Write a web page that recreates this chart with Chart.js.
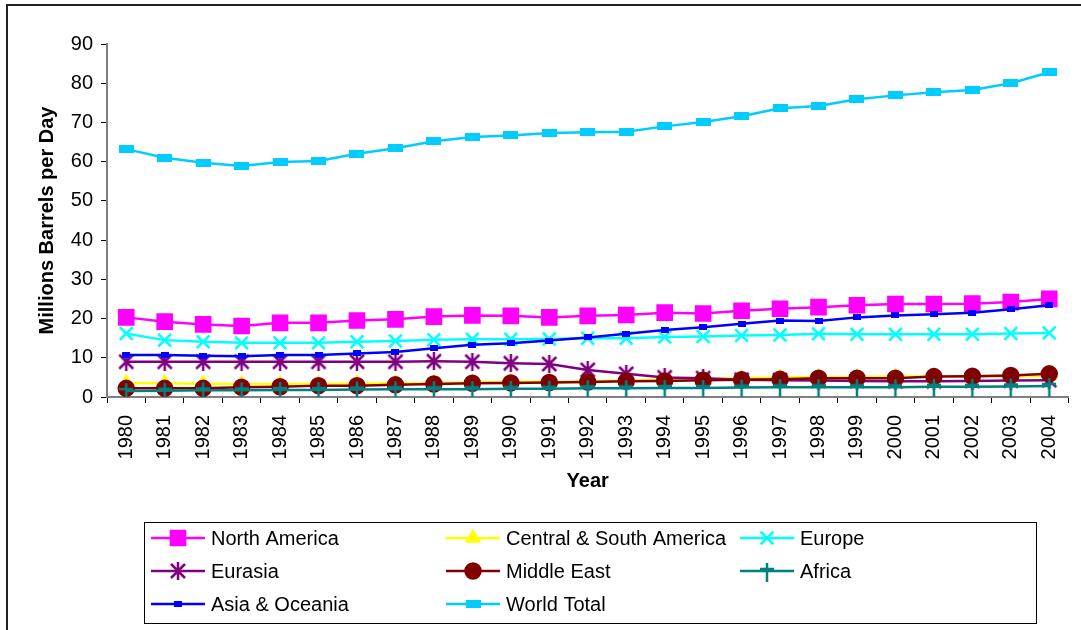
<!DOCTYPE html>
<html>
<head>
<meta charset="utf-8">
<script src="https://cdn.jsdelivr.net/npm/chart.js@4/dist/chart.umd.min.js"></script>
<style>
  body { margin: 0; background: #fff; }
  canvas { display: block; }
</style>
</head>
<body>
<canvas id="chart-oil" width="1081" height="630"></canvas>
<script>
const years = ["1980","1981","1982","1983","1984","1985","1986","1987","1988","1989","1990","1991","1992",
  "1993","1994","1995","1996","1997","1998","1999","2000","2001","2002","2003","2004"];
const yTicks = [0, 10, 20, 30, 40, 50, 60, 70, 80, 90];

const northAmerica = [20.3, 19.2, 18.5, 18.1, 18.9, 18.9, 19.5, 19.8, 20.5, 20.8, 20.7, 20.3, 20.7, 20.9, 21.5, 21.3, 22.0, 22.5, 22.9, 23.4, 23.7, 23.7, 23.8, 24.2, 25.0];
const centralSouth = [3.6, 3.5, 3.4, 3.3, 3.3, 3.3, 3.4, 3.5, 3.6, 3.7, 3.8, 3.9, 4.0, 4.2, 4.4, 4.6, 4.8, 5.0, 5.1, 5.1, 5.2, 5.2, 5.2, 5.2, 5.4];
const europe = [16.2, 14.5, 14.1, 13.8, 13.8, 13.8, 14.1, 14.3, 14.6, 14.7, 14.7, 14.8, 15.0, 15.0, 15.3, 15.4, 15.7, 15.8, 16.1, 16.0, 16.0, 16.0, 16.0, 16.2, 16.3];
const eurasia = [9.0, 9.0, 9.0, 9.0, 9.0, 9.0, 9.0, 9.0, 9.1, 9.0, 8.6, 8.4, 6.9, 5.9, 5.0, 4.8, 4.4, 4.3, 4.2, 4.1, 4.0, 4.0, 4.1, 4.2, 4.3];
const middleEast = [2.2, 2.2, 2.2, 2.5, 2.6, 2.9, 2.9, 3.1, 3.3, 3.5, 3.6, 3.7, 3.8, 4.0, 4.1, 4.3, 4.4, 4.5, 4.8, 4.8, 4.8, 5.2, 5.3, 5.5, 5.9];
const africa = [1.5, 1.6, 1.7, 1.7, 1.8, 1.8, 1.9, 2.0, 2.0, 2.0, 2.1, 2.1, 2.2, 2.2, 2.3, 2.3, 2.4, 2.5, 2.5, 2.5, 2.5, 2.6, 2.6, 2.7, 2.8];
const asiaOceania = [10.7, 10.7, 10.5, 10.4, 10.7, 10.7, 11.1, 11.5, 12.4, 13.3, 13.7, 14.4, 15.2, 16.1, 17.1, 17.8, 18.7, 19.5, 19.4, 20.3, 20.8, 21.1, 21.5, 22.4, 23.4];
const worldTotal = [63.2, 61.0, 59.7, 58.9, 59.9, 60.2, 62.0, 63.4, 65.2, 66.3, 66.7, 67.3, 67.5, 67.6, 69.0, 70.1, 71.6, 73.6, 74.2, 75.9, 76.9, 77.7, 78.3, 80.0, 82.8];

const FONT = "'Liberation Sans', Arial, sans-serif";

// small canvases used as point styles for the markers Chart.js doesn't have
function marker(w, h, paint) {
  const c = document.createElement("canvas");
  c.width = w;
  c.height = h;
  paint(c.getContext("2d"), w, h);
  return c;
}

const worldMark = marker(15, 8, (g, w, h) => { g.fillStyle = "#00CCFF"; g.fillRect(0, 0, w, h); });
const asiaMark = marker(8, 6, (g, w, h) => { g.fillStyle = "#0000FF"; g.fillRect(0, 0, w, h); });
const eurasiaMark = marker(18, 18, (g, w, h) => {
  g.strokeStyle = "#800080";
  g.lineWidth = 2.5;
  g.beginPath();
  g.moveTo(2, 2); g.lineTo(w - 2, h - 2);
  g.moveTo(w - 2, 2); g.lineTo(2, h - 2);
  g.moveTo(w / 2, 0); g.lineTo(w / 2, h);
  g.stroke();
});
// Africa's plus sign hangs a little lower than it reaches up
const africaMark = marker(14, 22, (g, w, h) => {
  g.strokeStyle = "#008080";
  g.lineWidth = 2.5;
  g.beginPath();
  g.moveTo(0, 9); g.lineTo(w, 9);
  g.moveTo(w / 2, 3); g.lineTo(w / 2, h);
  g.stroke();
});

const series = [
  { label: "North America", data: northAmerica, color: "#FF00FF", style: "rect", radius: 10 },
  { label: "Central & South America", data: centralSouth, color: "#FFFF00", style: "triangle", radius: 7 },
  { label: "Europe", data: europe, color: "#00FFFF", style: "crossRot", radius: 9 },
  { label: "Eurasia", data: eurasia, color: "#800080", style: eurasiaMark, radius: 8 },
  { label: "Middle East", data: middleEast, color: "#800000", style: "circle", radius: 7.5 },
  { label: "Africa", data: africa, color: "#008080", style: africaMark, radius: 7 },
  { label: "Asia & Oceania", data: asiaOceania, color: "#0000FF", style: asiaMark, radius: 4 },
  { label: "World Total", data: worldTotal, color: "#00CCFF", style: worldMark, radius: 6 }
];

// frame and 3-column legend box under the plot
const legendColumns = [151, 446, 740];
const legendRows = [538, 571, 604];

const framePlugin = {
  id: "frame",
  afterDraw(chart) {
    const ctx = chart.ctx;
    ctx.save();
    ctx.strokeStyle = "#222";
    ctx.lineWidth = 2;
    ctx.beginPath();
    ctx.moveTo(7, 630);
    ctx.lineTo(7, 5);
    ctx.lineTo(1081, 5);
    ctx.stroke();

    ctx.lineWidth = 1;
    ctx.strokeStyle = "#000";
    ctx.strokeRect(144.5, 522.5, 892, 101);

    ctx.font = "20px " + FONT;
    ctx.textBaseline = "middle";
    ctx.textAlign = "left";
    series.forEach((s, i) => {
      const x = legendColumns[i % 3];
      const y = legendRows[Math.floor(i / 3)];
      ctx.strokeStyle = s.color;
      ctx.fillStyle = s.color;
      ctx.lineWidth = 2.5;
      ctx.beginPath();
      ctx.moveTo(x, y);
      ctx.lineTo(x + 54, y);
      ctx.stroke();
      Chart.helpers.drawPoint(ctx, {
        pointStyle: s.style, radius: s.radius, rotation: 0, borderWidth: 2.5
      }, x + 27, y);
      ctx.fillStyle = "#000";
      ctx.fillText(s.label, x + 60, y + 1);
    });
    ctx.restore();
  }
};

new Chart(document.getElementById("chart-oil").getContext("2d"), {
  type: "line",
  data: {
    labels: years,
    datasets: series.map((s, i) => ({
      label: s.label,
      data: s.data,
      borderColor: s.color,
      backgroundColor: s.color,
      borderWidth: 2.5,
      pointStyle: s.style,
      pointRadius: s.radius,
      pointBorderWidth: 2.5,
      pointBorderColor: s.color,
      pointBackgroundColor: s.color,
      tension: 0,
      order: series.length - i
    }))
  },
  options: {
    responsive: false,
    animation: false,
    layout: { padding: { left: 31, top: 44, right: 4, bottom: 133 } },
    plugins: {
      legend: { display: false },
      tooltip: { enabled: false }
    },
    scales: {
      x: {
        offset: true,
        grid: { offset: true, drawOnChartArea: false, color: "#000", tickLength: 6 },
        border: { color: "#808080", width: 2 },
        ticks: { color: "#000", font: { family: FONT, size: 20 }, minRotation: 90, maxRotation: 90, padding: 12 },
        title: { display: true, text: "Year", color: "#000", font: { family: FONT, size: 20, weight: "bold" } },
        afterFit(scale) {
          scale.height = 100;
          scale.paddingLeft = 0;
          scale.paddingRight = 0;
        }
      },
      y: {
        min: 0,
        max: 90,
        afterBuildTicks(scale) { scale.ticks = yTicks.map(v => ({ value: v })); },
        grid: { drawOnChartArea: false, color: "#000", tickLength: 6 },
        border: { color: "#808080", width: 2 },
        ticks: { color: "#000", font: { family: FONT, size: 20 }, padding: 8 },
        title: { display: true, text: "Millions Barrels per Day", color: "#000", font: { family: FONT, size: 20, weight: "bold" } },
        afterFit(scale) {
          scale.width = 76;
          scale.paddingTop = 0;
          scale.paddingBottom = 0;
        }
      }
    }
  },
  plugins: [framePlugin]
});
</script>
</body>
</html>
